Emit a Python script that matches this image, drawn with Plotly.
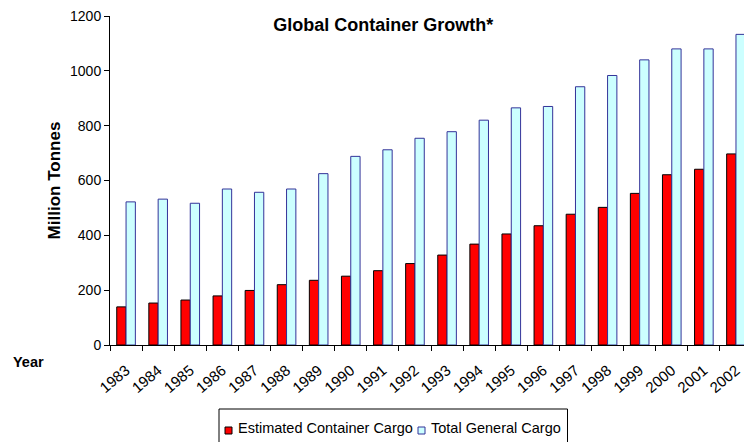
import plotly.graph_objects as go

# Yearly cargo volumes, million tonnes
years = ["1983", "1984", "1985", "1986", "1987", "1988", "1989", "1990", "1991", "1992",
         "1993", "1994", "1995", "1996", "1997", "1998", "1999", "2000", "2001", "2002"]
container_cargo = [139, 153, 164, 179, 199, 220, 236, 251, 271, 297,
                   328, 368, 405, 435, 477, 502, 553, 621, 641, 697]
general_cargo = [522, 532, 517, 569, 557, 569, 625, 688, 712, 754,
                 778, 820, 865, 870, 942, 983, 1040, 1080, 1080, 1133]
y_ticks = [0, 200, 400, 600, 800, 1000, 1200]

series_names = ["Estimated Container Cargo", "Total General Cargo"]
fill_colors = ["#FF0000", "#CCFFFF"]
edge_colors = ["#000000", "#333399"]

FONT = "Liberation Sans, Arial, sans-serif"
W, H = 744, 442
M_L, M_R, M_T, M_B = 110, 0, 16, 97
PW, PH = W - M_L - M_R, H - M_T - M_B


def px_x(px):
    """Pixel column -> paper x."""
    return (px - M_L) / PW


def px_y(py):
    """Pixel row -> paper y."""
    return (H - M_B - py) / PH


fig = go.Figure()
for name, vals, fc, ec in zip(series_names, [container_cargo, general_cargo], fill_colors, edge_colors):
    fig.add_trace(go.Bar(
        x=years, y=vals, name=name,
        marker=dict(color=fc, line=dict(color=ec, width=1)),
        showlegend=False,
    ))

fig.update_layout(
    width=W, height=H,
    margin=dict(l=M_L, r=M_R, t=M_T, b=M_B),
    paper_bgcolor="white", plot_bgcolor="white",
    font=dict(family=FONT, size=14, color="#000000"),
    barmode="group", bargap=0.42, bargroupgap=0,
    title=dict(text="<b>Global Container Growth*</b>", xref="container", x=0.515,
               xanchor="center", yref="container", y=0.943, yanchor="middle",
               font=dict(size=18, family=FONT)),
)

fig.update_xaxes(
    type="category", range=[-0.5, 19.25],
    showline=True, linecolor="#000000", linewidth=1,
    ticks="outside", tickson="boundaries", ticklen=5, tickcolor="#000000",
    tickangle=-40, ticklabelstandoff=10, showgrid=False, zeroline=False,
    tickfont=dict(size=15, family=FONT),
)
fig.update_yaxes(
    range=[0, 1200], tickvals=y_ticks,
    showline=True, linecolor="#000000", linewidth=1,
    ticks="outside", ticklen=5, tickcolor="#000000",
    showgrid=False, zeroline=False,
    tickfont=dict(size=14, family=FONT),
    title=dict(text="<b>Million Tonnes</b>", standoff=5, font=dict(size=17, family=FONT)),
)

fig.add_annotation(
    text="<b>Year</b>", xref="paper", yref="paper", x=px_x(28), y=px_y(362),
    xanchor="center", yanchor="middle", showarrow=False,
    font=dict(size=14.5, family=FONT),
)

# Legend box below the axis, open at the bottom edge of the page
fig.add_shape(type="rect", xref="paper", yref="paper",
              x0=px_x(219), x1=px_x(567.5), y0=px_y(409), y1=px_y(470),
              line=dict(color="#000000", width=1), fillcolor="white", layer="above")
legend_items = [(225, 236), (418, 429)]
for (sx, tx), name, fc, ec in zip(legend_items, series_names, fill_colors, edge_colors):
    fig.add_shape(type="rect", xref="paper", yref="paper",
                  x0=px_x(sx), x1=px_x(sx + 7), y0=px_y(427), y1=px_y(434),
                  line=dict(color=ec, width=1), fillcolor=fc, layer="above")
    fig.add_annotation(
        text=name, xref="paper", yref="paper", x=px_x(tx), y=px_y(428),
        xanchor="left", yanchor="middle", showarrow=False,
        font=dict(size=14.5, family=FONT),
    )

fig.write_html("out.html")
